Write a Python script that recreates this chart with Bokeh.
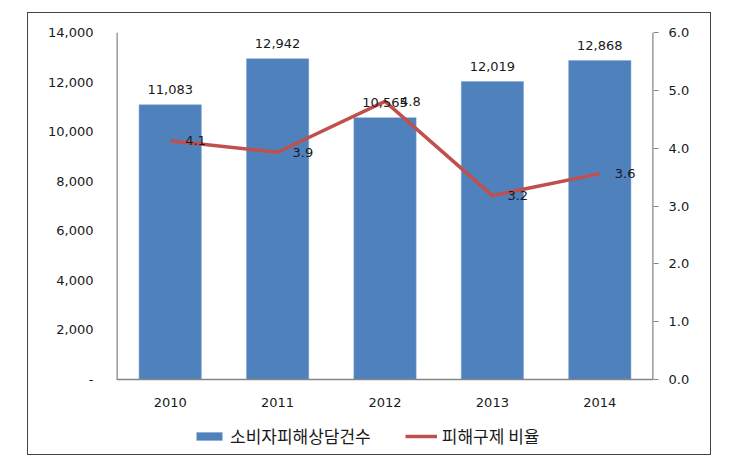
from bokeh.plotting import figure
from bokeh.models import (ColumnDataSource, Range1d, FactorRange, LinearAxis, FixedTicker,
                          NumeralTickFormatter, LabelSet, Legend, LegendItem)
from bokeh.core.properties import value
from bokeh.embed import file_html
from bokeh.resources import INLINE

years = ["2010", "2011", "2012", "2013", "2014"]
counts = [11083, 12942, 10565, 12019, 12868]
rates = [4.13, 3.93, 4.81, 3.18, 3.56]
count_ticks = [0, 2000, 4000, 6000, 8000, 10000, 12000, 14000]
rate_ticks = [0, 1, 2, 3, 4, 5, 6]
bar_name = "소비자피해상담건수"
line_name = "피해구제 비율"

NUM_FONT = "DejaVu Sans"
KR_FONT = "Noto Sans CJK KR"
BAR_COLOR = "#4F81BD"
LINE_COLOR = "#C0504D"
AXIS_COLOR = "#868686"
TEXT_COLOR = "#1a1a1a"

# layout (pixels): value area height and the extra room under zero for x labels + legend
VALUE_PX = 347
UNDER_PX = 75
c_max, r_max = count_ticks[-1], rate_ticks[-1]
c_min = -c_max * UNDER_PX / VALUE_PX
r_min = -r_max * UNDER_PX / VALUE_PX

src = ColumnDataSource(dict(
    year=years, count=counts, rate=rates,
    count_label=[f"{c:,}" for c in counts],
    rate_label=[f"{r:.1f}" for r in rates],
))

p = figure(x_range=FactorRange(*years, range_padding=0),
           y_range=Range1d(c_min, c_max),
           frame_width=537, frame_height=VALUE_PX + UNDER_PX,
           output_backend="svg", toolbar_location=None,
           min_border_left=88, min_border_right=57, min_border_top=19, min_border_bottom=0)
p.margin = (12, 0, 0, 27)
p.styles = {"border": "1px solid #444444"}
p.extra_y_ranges = {"rate": Range1d(r_min, r_max)}
p.outline_line_color = None
p.xgrid.grid_line_color = None
p.ygrid.grid_line_color = None

bars = p.vbar(x="year", top="count", width=0.58, source=src, fill_color=BAR_COLOR,
              line_color="#7FA3D0", line_width=0.5)
line = p.line(x="year", y="rate", y_range_name="rate", source=src,
              line_color=LINE_COLOR, line_width=3.5)

# value-axis lines (only over the value range, from 0 to the top tick)
n = len(years)
p.segment(x0=[0, n], y0=[0, 0], x1=[0, n], y1=[c_max, c_max],
          line_color=AXIS_COLOR, line_width=2.5)

xa = p.xaxis[0]
xa.fixed_location = 0
xa.axis_line_color = AXIS_COLOR
xa.axis_line_width = 1.5
xa.major_tick_line_color = None
xa.minor_tick_line_color = None
xa.major_label_standoff = 12
xa.major_label_text_font = NUM_FONT
xa.major_label_text_font_size = "13px"
xa.major_label_text_color = TEXT_COLOR

ya = p.yaxis[0]
ya.ticker = FixedTicker(ticks=count_ticks)
ya.formatter = NumeralTickFormatter(format="0,0")
ya.major_label_overrides = {0: "-"}
ya.axis_line_color = None
ya.major_tick_line_color = None
ya.minor_tick_line_color = None
ya.major_label_standoff = 17
ya.major_label_text_font = NUM_FONT
ya.major_label_text_font_size = "13px"
ya.major_label_text_color = TEXT_COLOR

ra = LinearAxis(y_range_name="rate", ticker=FixedTicker(ticks=rate_ticks),
                formatter=NumeralTickFormatter(format="0.0"))
ra.axis_line_color = None
ra.major_tick_line_color = AXIS_COLOR
ra.major_tick_line_width = 1.2
ra.major_tick_in = 0
ra.major_tick_out = 5
ra.minor_tick_line_color = None
ra.major_label_standoff = 10
ra.major_label_text_font = NUM_FONT
ra.major_label_text_font_size = "13px"
ra.major_label_text_color = TEXT_COLOR
p.add_layout(ra, "right")

p.add_layout(LabelSet(x="year", y="count", text="count_label", source=src,
                      y_offset=11, text_align="center", text_baseline="bottom",
                      text_font=value(NUM_FONT), text_font_size="13px", text_color=TEXT_COLOR))
p.add_layout(LabelSet(x="year", y="rate", text="rate_label", source=src, y_range_name="rate",
                      x_offset=15, text_align="left", text_baseline="middle",
                      text_font=value(NUM_FONT), text_font_size="13px", text_color=TEXT_COLOR))

legend = Legend(items=[LegendItem(label=bar_name, renderers=[bars]),
                       LegendItem(label=line_name, renderers=[line])],
                orientation="horizontal", location=(77, 6),
                border_line_color=None, background_fill_alpha=0,
                padding=0, margin=0, spacing=34, label_standoff=5,
                glyph_width=32, glyph_height=10, label_height=20,
                label_text_font=KR_FONT, label_text_font_size="17px",
                label_text_color=TEXT_COLOR)
p.add_layout(legend)

open("out.html", "w").write(file_html(p, INLINE))
